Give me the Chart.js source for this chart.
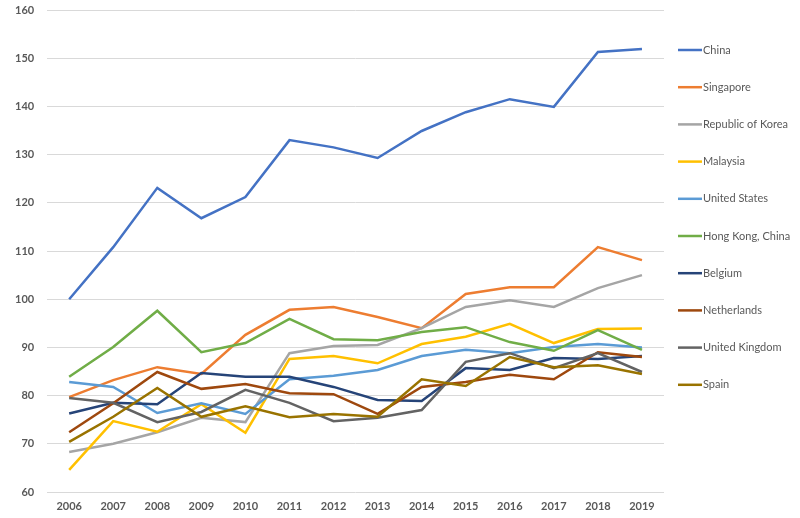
<!DOCTYPE html>
<html>
<head>
<meta charset="utf-8">
<script src="https://cdn.jsdelivr.net/npm/chart.js@4/dist/chart.umd.min.js"></script>
<style>
  html, body { margin: 0; padding: 0; background: #fff; }
  #wrap { width: 800px; height: 518px; }
</style>
</head>
<body>
<div id="wrap"><canvas id="chart" width="800" height="518"></canvas></div>
<script>
const years = ['2006', '2007', '2008', '2009', '2010', '2011', '2012', '2013', '2014', '2015', '2016', '2017', '2018', '2019'];

const china       = [100.0, 110.8, 123.1, 116.8, 121.2, 133.0, 131.5, 129.3, 134.9, 138.8, 141.5, 139.9, 151.3, 151.9];
const singapore   = [79.7, 83.2, 85.9, 84.5, 92.6, 97.8, 98.4, 96.3, 94.0, 101.1, 102.5, 102.5, 110.8, 108.1];
const korea       = [68.3, 70.0, 72.4, 75.4, 74.5, 88.8, 90.3, 90.5, 94.0, 98.4, 99.8, 98.4, 102.3, 105.0];
const malaysia    = [64.6, 74.7, 72.5, 78.2, 72.3, 87.6, 88.2, 86.7, 90.7, 92.2, 94.9, 90.9, 93.8, 93.9];
const usa         = [82.8, 81.8, 76.4, 78.4, 76.2, 83.4, 84.1, 85.3, 88.2, 89.5, 88.8, 90.1, 90.7, 90.0];
const hongKong    = [83.9, 90.1, 97.6, 89.0, 90.9, 95.9, 91.7, 91.5, 93.2, 94.2, 91.1, 89.3, 93.6, 89.5];
const belgium     = [76.3, 78.5, 78.2, 84.7, 83.9, 83.9, 81.8, 79.1, 78.9, 85.7, 85.3, 87.8, 87.6, 88.2];
const netherlands = [72.4, 78.4, 84.9, 81.4, 82.4, 80.5, 80.3, 76.2, 81.8, 82.8, 84.3, 83.4, 89.0, 88.0];
const uk          = [79.5, 78.5, 74.5, 76.6, 81.2, 78.5, 74.7, 75.4, 77.0, 87.0, 88.8, 85.7, 88.8, 84.9];
const spain       = [70.4, 75.6, 81.6, 75.6, 77.8, 75.5, 76.2, 75.6, 83.4, 82.0, 88.0, 85.9, 86.3, 84.5];

const names  = ['China', 'Singapore', 'Republic of Korea', 'Malaysia', 'United States', 'Hong Kong, China', 'Belgium', 'Netherlands', 'United Kingdom', 'Spain'];
const series = [china, singapore, korea, malaysia, usa, hongKong, belgium, netherlands, uk, spain];
const colors = ['#4472C4', '#ED7D31', '#A5A5A5', '#FFC000', '#5B9BD5', '#70AD47', '#264478', '#9E480E', '#636363', '#997300'];

// legend drawn at the right like the excel one
const sideLegend = {
    id: 'sideLegend',
    afterDraw(chart) {
        const ctx = chart.ctx;
        ctx.save();
        ctx.font = '11px Lato';
        ctx.textBaseline = 'middle';
        chart.data.datasets.forEach((ds, i) => {
            const y = 50 + i * 37.2;
            ctx.strokeStyle = ds.borderColor;
            ctx.lineWidth = 2.5;
            ctx.beginPath();
            ctx.moveTo(678, y);
            ctx.lineTo(702, y);
            ctx.stroke();
            ctx.fillStyle = '#595959';
            ctx.fillText(ds.label, 703, y);
        });
        ctx.restore();
    }
};

const ctx = document.getElementById('chart').getContext('2d');

new Chart(ctx, {
    type: 'line',
    data: {
        labels: years,
        datasets: series.map((vals, i) => ({
            label: names[i],
            data: vals,
            borderColor: colors[i],
            backgroundColor: colors[i],
            borderWidth: 2.5,
            pointRadius: 0,
            tension: 0,
            order: series.length - i
        }))
    },
    options: {
        responsive: false,
        animation: false,
        layout: {
            padding: { left: 2, right: 136, top: 10, bottom: 4 }
        },
        plugins: {
            legend: { display: false },
            tooltip: { enabled: false }
        },
        scales: {
            x: {
                offset: true,
                afterFit: (scale) => {
                    scale.height = 22;
                    scale.paddingTop = 0;
                    scale.paddingBottom = 0;
                },
                grid: { display: false, drawTicks: false },
                border: { display: false },
                ticks: {
                    color: '#595959',
                    padding: 8,
                    maxRotation: 0,
                    font: { family: 'Lato', size: 11, weight: 'bold' }
                }
            },
            y: {
                min: 60,
                max: 160,
                afterFit: (scale) => {
                    scale.paddingTop = 0;
                    scale.paddingBottom = 0;
                },
                grid: { color: '#D9D9D9', lineWidth: 1, drawTicks: false },
                border: { display: false },
                ticks: {
                    stepSize: 10,
                    color: '#595959',
                    padding: 13,
                    font: { family: 'Lato', size: 11, weight: 'bold' }
                }
            }
        }
    },
    plugins: [sideLegend]
});
</script>
</body>
</html>
